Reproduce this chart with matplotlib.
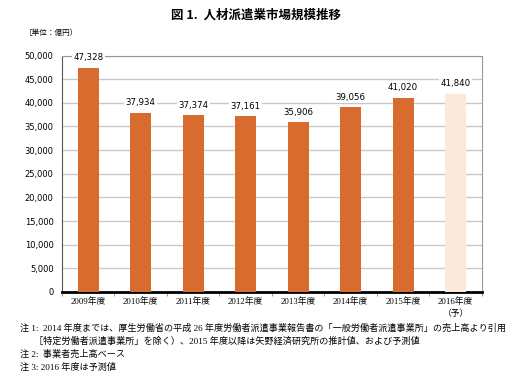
import matplotlib
matplotlib.use("Agg")
import matplotlib.pyplot as plt
import numpy as np

plt.rcParams['font.family'] = ['Noto Sans CJK JP', 'DejaVu Sans']
SERIF = ['Liberation Serif', 'Noto Sans CJK JP', 'DejaVu Sans']

years = ["2009年度", "2010年度", "2011年度", "2012年度", "2013年度", "2014年度", "2015年度", "2016年度\n（予）"]
values = [47328, 37934, 37374, 37161, 35906, 39056, 41020, 41840]
colors = ["#D86B2E"] * 7 + ["#FBEADB"]
yticks = [0, 5000, 10000, 15000, 20000, 25000, 30000, 35000, 40000, 45000, 50000]

fig = plt.figure(figsize=(5.12, 3.87), dpi=100)
ax = fig.add_axes([0.121, 0.2455, 0.82, 0.611])

x = np.arange(len(values))
ax.bar(x, values, width=0.4, color=colors, zorder=3)
ax.set_xlim(-0.5, len(values) - 0.5)
ax.set_ylim(0, 50000)
ax.set_yticks(yticks)
ax.set_yticklabels([f"{v:,}" for v in yticks], fontsize=6, family='DejaVu Sans')
ax.yaxis.grid(True, color="#C8C8C8", linewidth=1, zorder=0)
ax.tick_params(axis='y', length=0, pad=6)
ax.set_xticks(x)
ax.set_xticklabels(years, fontsize=6.3, linespacing=1.5, va='top', family=SERIF)
ax.tick_params(axis='x', length=0, pad=4)
ax.set_xticks(np.arange(len(values) + 1) - 0.5, minor=True)
ax.tick_params(axis='x', which='minor', length=3, color="#888888", direction='out')

for s in ['top', 'right', 'left']:
    ax.spines[s].set_color("#999999")
    ax.spines[s].set_linewidth(0.8)
ax.spines['left'].set_color("#555555")
ax.spines['bottom'].set_color("black")
ax.spines['bottom'].set_linewidth(2)

for xi, v in zip(x, values):
    ax.text(xi, v + 1200, f"{v:,}", ha='center', va='bottom', fontsize=6.2,
            family='DejaVu Sans', zorder=4,
            bbox=dict(facecolor='white', edgecolor='none', pad=1))

fig.text(0.5, 0.962, "図 1.  人材派遣業市場規模推移", ha='center', va='center',
         fontsize=9, fontweight='bold')
fig.text(0.048, 0.915, "［単位：億円）", ha='left', va='center', fontsize=5.5)

notes = [
    (0.039, 0.151, "注 1:  2014 年度までは、厚生労働省の平成 26 年度労働者派遣事業報告書の「一般労働者派遣事業所」の売上高より引用"),
    (0.066, 0.119, "［特定労働者派遣事業所」を除く）、2015 年度以降は矢野経済研究所の推計値、および予測値"),
    (0.039, 0.085, "注 2:  事業者売上高ベース"),
    (0.039, 0.052, "注 3: 2016 年度は予測値"),
]
for nx, ny, t in notes:
    fig.text(nx, ny, t, ha='left', va='center', fontsize=6.55, family=SERIF)

fig.savefig("out.png", dpi=100)
